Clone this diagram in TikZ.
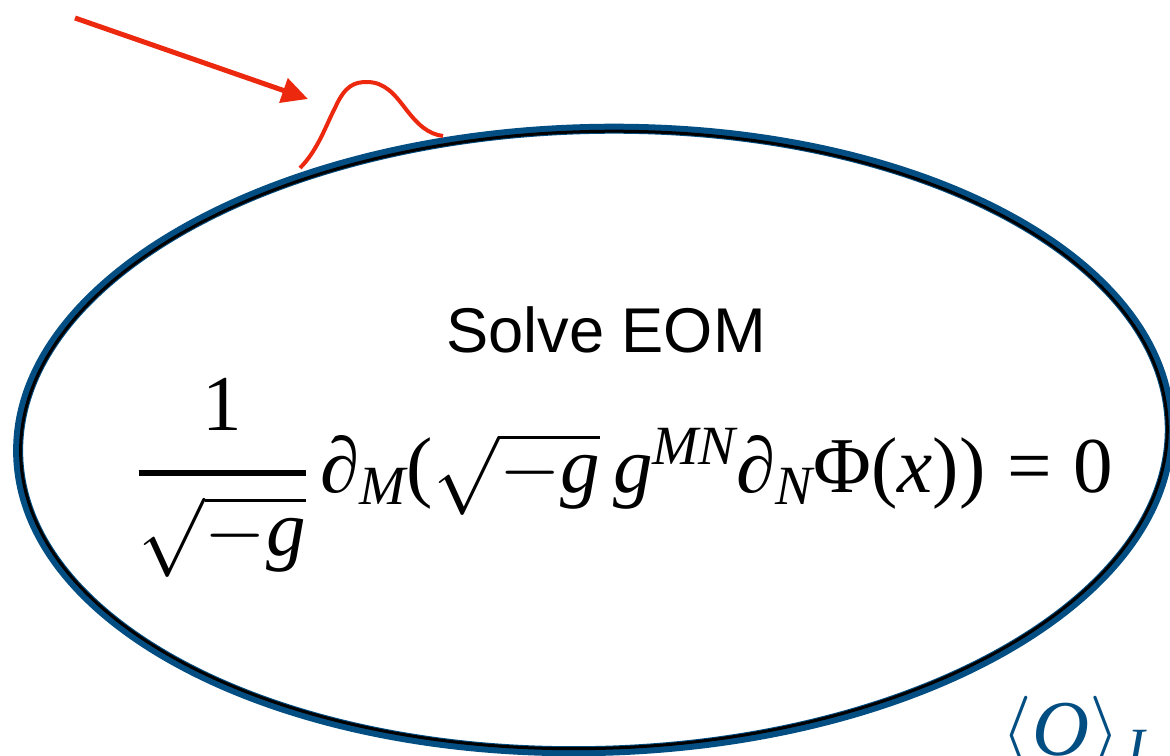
\RequirePackage{fix-cm}
\documentclass[tikz,border=0pt]{standalone}
\usepackage{amsmath}
\usepackage[no-math]{fontspec}
\setmainfont{Liberation Serif}
\newfontfamily\arialfont{Liberation Sans}
\DeclareSymbolFont{operators}{TU}{\rmdefault}{m}{n}
\DeclareSymbolFont{letters}{TU}{\rmdefault}{m}{it}
\Umathchardef\Phi="0 \symoperators "03A6
\Umathchardef\partial="0 \symletters "2202
\usetikzlibrary{arrows.meta}
\definecolor{ringblue}{RGB}{2,78,130}
\definecolor{arrowred}{RGB}{236,40,14}
\tikzset{
  ringouter/.style={draw=ringblue, line width=10*0.02cm},
  ringinner/.style={draw=black, line width=3*0.02cm},
  redline/.style={draw=arrowred, line width=4*0.02cm},
  redarrow/.style={draw=arrowred, line width=5*0.02cm, -{Triangle[length=26*0.02cm, width=25*0.02cm]}},
  eqtext/.style={inner sep=0pt, font=\fontsize{45}{54}\selectfont},
  titletext/.style={inner sep=0pt, font=\arialfont\fontsize{36}{42}\selectfont},
  bluetext/.style={inner sep=0pt, text=ringblue, font=\fontsize{45}{50}\selectfont}
}
\begin{document}
\begin{tikzpicture}[x=0.02cm, y=-0.02cm]
\useasboundingbox (0,0) rectangle (1170,756);
\fill[white] (0,0) rectangle (1170,756);
% ellipse
\coordinate (c) at (594,440);
\draw[ringouter, rotate around={1.5:(c)}] (c) ellipse [x radius=576, y radius=311];
\draw[ringinner, rotate around={1.5:(c)}] (c) ellipse [x radius=573.5, y radius=308.5];
% red bump
\coordinate (b0) at (300,168);
\coordinate (b1) at (443,136);
\draw[redline] (b0) .. controls (318,150) and (326,125) .. (335,108)
  .. controls (345,85) and (355,82) .. (367,82)
  .. controls (385,82) and (395,95) .. (405,108)
  .. controls (418,125) and (428,134) .. (b1);
% red arrow
\coordinate (a0) at (75,18);
\coordinate (a1) at (308,99);
\draw[redarrow] (a0) -- (a1);
% texts
\node[titletext, anchor=base] (title) at (606,353) {Solve EOM};
\node[eqtext, anchor=base] (eom) at (625,493)
  {$\genfrac{}{}{3.6pt}{0}{\raisebox{0.12em}{$\displaystyle 1$}}{\sqrt{-g}}\,\partial_M(\sqrt{-g}\,g^{MN}\partial_N\Phi(x))=0$};
\node[bluetext, anchor=base] (vev) at (1074,755) {$\langle O\rangle_J$};
\end{tikzpicture}
\end{document}
